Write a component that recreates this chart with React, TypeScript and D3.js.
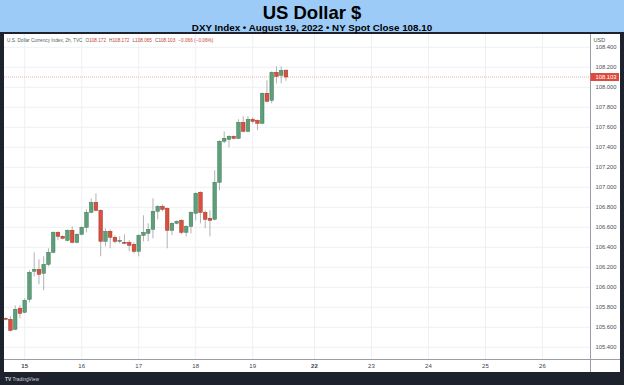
import React from "react";
import * as d3 from "d3";

// ---- data (2h bars, DXY) ----
const opens = [105.69, 105.68, 105.58, 105.79, 105.75, 105.88, 106.16, 106.18, 106.14, 106.23, 106.35, 106.55, 106.51, 106.47, 106.57, 106.45, 106.53, 106.60, 106.75, 106.85, 106.77, 106.46, 106.56, 106.50, 106.46, 106.45, 106.45, 106.43, 106.36, 106.52, 106.54, 106.58, 106.76, 106.81, 106.79, 106.57, 106.64, 106.67, 106.55, 106.61, 106.74, 106.95, 106.75, 106.69, 106.68, 107.05, 107.46, 107.48, 107.51, 107.49, 107.65, 107.56, 107.68, 107.67, 107.64, 107.94, 107.87, 108.15, 108.12, 108.172];
const highs = [105.70, 105.71, 105.82, 105.82, 105.89, 106.17, 106.35, 106.28, 106.31, 106.39, 106.56, 106.56, 106.52, 106.58, 106.61, 106.54, 106.61, 106.78, 106.89, 106.94, 106.78, 106.59, 106.58, 106.52, 106.51, 106.53, 106.47, 106.45, 106.53, 106.72, 106.64, 106.89, 106.82, 106.83, 106.80, 106.65, 106.67, 106.68, 106.62, 106.76, 106.95, 106.96, 106.77, 106.77, 107.17, 107.47, 107.56, 107.52, 107.52, 107.68, 107.71, 107.71, 107.70, 107.68, 107.95, 108.07, 108.16, 108.21, 108.21, 108.172];
const lows = [105.67, 105.56, 105.57, 105.69, 105.74, 105.85, 106.11, 106.03, 105.97, 106.21, 106.34, 106.47, 106.48, 106.46, 106.44, 106.44, 106.52, 106.55, 106.74, 106.76, 106.31, 106.41, 106.39, 106.44, 106.44, 106.43, 106.36, 106.34, 106.31, 106.46, 106.46, 106.49, 106.68, 106.76, 106.39, 106.52, 106.63, 106.53, 106.51, 106.54, 106.67, 106.64, 106.59, 106.51, 106.67, 106.97, 107.44, 107.40, 107.48, 107.48, 107.55, 107.55, 107.64, 107.57, 107.63, 107.85, 107.84, 108.04, 108.04, 108.065];
const closes = [105.68, 105.57, 105.78, 105.74, 105.87, 106.15, 106.18, 106.13, 106.23, 106.35, 106.55, 106.51, 106.49, 106.57, 106.45, 106.53, 106.60, 106.75, 106.85, 106.77, 106.46, 106.56, 106.50, 106.46, 106.47, 106.44, 106.42, 106.36, 106.52, 106.55, 106.58, 106.76, 106.81, 106.78, 106.57, 106.64, 106.66, 106.55, 106.61, 106.75, 106.94, 106.75, 106.68, 106.67, 107.05, 107.46, 107.49, 107.51, 107.49, 107.65, 107.56, 107.68, 107.66, 107.64, 107.94, 107.86, 108.15, 108.11, 108.17, 108.103];

const dayLabels = ["15", "16", "17", "18", "19", "22", "23", "24", "25", "26"];
const dayBarIndex = [4, 16, 28, 40, 52, 65, 77, 89, 101, 113];
const dayBold = [true, false, false, false, false, true, false, false, false, false];
const priceTicks = [105.4, 105.6, 105.8, 106.0, 106.2, 106.4, 106.6, 106.8, 107.0, 107.2, 107.4, 107.6, 107.8, 108.0, 108.2, 108.4];
const lastPrice = 108.103;

const title = "US Dollar $";
const subtitle = "DXY Index \u2022 August 19, 2022 \u2022 NY Spot Close 108.10";

const W = 624;
const H = 385;
const plotLeft = 4;
const plotRight = 590;
const plotTop = 34;
const plotBottom = 359;

export default function App() {
  const x = d3.scaleLinear().domain([0, 113]).range([5.7, 542.45]);
  const y = d3.scaleLinear().domain([105.4, 108.4]).range([347.3, 47.3]);
  const bw = 3.6;
  const axisFont = "'Liberation Sans', Arial, sans-serif";
  const infoRed = "#c2453a";
  const infoGray = "#555a66";

  return (
    <svg width={W} height={H} style={{ position: "absolute", left: 0, top: 0, display: "block" }}>
      {/* frame */}
      <rect x={0} y={0} width={W} height={H} fill="#1e222d" />
      <rect x={0} y={0} width={W} height={32} fill="#9dcbf7" />
      <rect x={plotLeft} y={plotTop} width={620 - plotLeft} height={372 - plotTop} fill="#ffffff" />

      <text x={312} y={18.5} textAnchor="middle" fontFamily={axisFont} fontWeight="bold" fontSize={18.5} fill="#000">{title}</text>
      <text x={312} y={30.5} textAnchor="middle" fontFamily={axisFont} fontWeight="bold" fontSize={9.8} fill="#000">{subtitle}</text>

      {/* grid */}
      {priceTicks.map((v) => (
        <line key={"h" + v} x1={plotLeft} x2={plotRight} y1={y(v)} y2={y(v)} stroke="#eef0f4" strokeWidth={1} />
      ))}
      {dayBarIndex.map((b, i) => (
        <line key={"v" + i} x1={x(b)} x2={x(b)} y1={plotTop} y2={plotBottom} stroke="#eef0f4" strokeWidth={1} />
      ))}

      {/* last price line */}
      <line x1={plotLeft} x2={plotRight} y1={y(lastPrice)} y2={y(lastPrice)} stroke="#ef9a9a" strokeWidth={0.8} strokeDasharray="1 1" />

      {/* candles */}
      {closes.map((c, i) => {
        const o = opens[i];
        const up = c >= o;
        const top = y(Math.max(o, c));
        const bot = y(Math.min(o, c));
        const cx = x(i);
        return (
          <g key={"c" + i}>
            <line x1={cx} x2={cx} y1={y(highs[i])} y2={y(lows[i])} stroke="#a9a9ab" strokeWidth={0.9} />
            <rect x={cx - bw / 2} y={top} width={bw} height={Math.max(bot - top, 0.8)}
              fill={up ? "#5f9e7b" : "#d9503e"} stroke={up ? "#3e7a59" : "#a03426"} strokeWidth={0.5} />
          </g>
        );
      })}

      {/* axes separators */}
      <line x1={plotRight + 0.5} x2={plotRight + 0.5} y1={plotTop} y2={372} stroke="#9a9ea8" strokeWidth={1} />
      <line x1={plotLeft} x2={620} y1={plotBottom + 0.5} y2={plotBottom + 0.5} stroke="#9a9ea8" strokeWidth={1} />

      {/* price axis labels */}
      <text x={593.5} y={41.5} fontFamily={axisFont} fontSize={5.6} fill="#4a4e58">USD</text>
      {priceTicks.map((v) => (
        <text key={"p" + v} x={595.5} y={y(v) + 2} fontFamily={axisFont} fontSize={5.8} fill="#4a4e58">{v.toFixed(3)}</text>
      ))}
      <rect x={590.5} y={y(lastPrice) - 4} width={28.5} height={8} fill="#dd4b3e" />
      <text x={595.5} y={y(lastPrice) + 2} fontFamily={axisFont} fontSize={5.8} fill="#ffffff">{lastPrice.toFixed(3)}</text>

      {/* time axis labels */}
      {dayLabels.map((d, i) => (
        <text key={"t" + i} x={x(dayBarIndex[i])} y={367.5} textAnchor="middle" fontFamily={axisFont} fontSize={6}
          fontWeight={dayBold[i] ? "bold" : "normal"} fill="#3e424c">{d}</text>
      ))}

      {/* info line */}
      <text x={7} y={41.5} fontFamily={axisFont} fontSize={4.7} fill={infoGray}>
        <tspan>U.S. Dollar Currency Index, 2h, TVC</tspan>
        <tspan dx={3}>O</tspan><tspan fill={infoRed}>108.172</tspan>
        <tspan dx={3}>H</tspan><tspan fill={infoRed}>108.172</tspan>
        <tspan dx={3}>L</tspan><tspan fill={infoRed}>108.065</tspan>
        <tspan dx={3}>C</tspan><tspan fill={infoRed}>108.103</tspan>
        <tspan dx={3} fill={infoRed}>{"\u22120.066 (\u22120.06%)"}</tspan>
      </text>

      {/* logo */}
      <text x={5} y={381} fontFamily={axisFont} fontSize={4.8} fontWeight="bold" fill="#d0d2d8">TV</text>
      <text x={12.5} y={381} fontFamily={axisFont} fontSize={4.8} fill="#d0d2d8">TradingView</text>
    </svg>
  );
}
